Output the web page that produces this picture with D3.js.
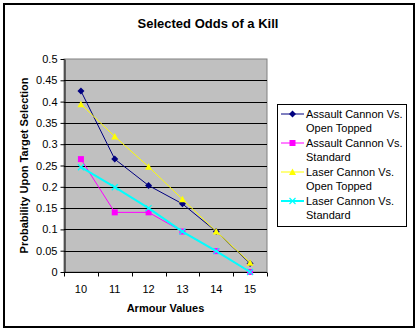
<!DOCTYPE html>
<html>
<head>
<meta charset="utf-8">
<script src="https://cdn.jsdelivr.net/npm/d3@7"></script>
<style>
  html, body { margin: 0; padding: 0; background: #fff; }
  svg { display: block; font-family: Arial, "Liberation Sans", sans-serif; }
</style>
</head>
<body>
<svg id="chart" width="416" height="332"></svg>
<script>
// Armour values along the x axis
const armour = ["10", "11", "12", "13", "14", "15"];

// Probability of a kill for each weapon / target pairing
const assaultOpen = [0.425, 0.265, 0.203, 0.16, 0.095, 0.02];
const assaultStd  = [0.265, 0.14, 0.14, 0.095, 0.049, 0];
const laserOpen   = [0.394, 0.318, 0.247, 0.171, 0.095, 0.022];
const laserStd    = [0.246, 0.199, 0.15, 0.095, 0.049, 0];

const seriesNames = [
  ["Assault Cannon Vs.", "Open Topped"],
  ["Assault Cannon Vs.", "Standard"],
  ["Laser Cannon Vs.", "Open Topped"],
  ["Laser Cannon Vs.", "Standard"]
];
const yTicks = [0, 0.05, 0.1, 0.15, 0.2, 0.25, 0.3, 0.35, 0.4, 0.45, 0.5];

const series = [
  { name: seriesNames[0], values: assaultOpen, color: "#000080", marker: "diamond", width: 1 },
  { name: seriesNames[1], values: assaultStd,  color: "#FF00FF", marker: "square",  width: 1 },
  { name: seriesNames[2], values: laserOpen,   color: "#FFFF00", marker: "triangle", width: 1 },
  { name: seriesNames[3], values: laserStd,    color: "#00FFFF", marker: "cross",   width: 2 }
];

const svg = d3.select("#chart");

// Outer chart border
svg.append("rect")
  .attr("x", 4).attr("y", 4).attr("width", 410).attr("height", 323)
  .attr("fill", "#fff").attr("stroke", "#000").attr("stroke-width", 2);

// Title
svg.append("text")
  .attr("x", 208).attr("y", 28)
  .attr("text-anchor", "middle")
  .attr("font-size", 13).attr("font-weight", "bold")
  .text("Selected Odds of a Kill");

const plot = { left: 64, top: 59, right: 267, bottom: 272 };

const x = d3.scaleBand().domain(armour).range([plot.left, plot.right]);
const y = d3.scaleLinear().domain([0, 0.5]).range([plot.bottom, plot.top]);

// Plot background
svg.append("rect")
  .attr("x", plot.left).attr("y", plot.top)
  .attr("width", plot.right - plot.left).attr("height", plot.bottom - plot.top)
  .attr("fill", "#C0C0C0").attr("stroke", "#808080").attr("stroke-width", 1);

// Horizontal gridlines
svg.append("g")
  .selectAll("line")
  .data(yTicks.filter(t => t > 0 && t < 0.5))
  .join("line")
  .attr("x1", plot.left).attr("x2", plot.right)
  .attr("y1", d => Math.round(y(d)) + 0.5).attr("y2", d => Math.round(y(d)) + 0.5)
  .attr("stroke", "#000").attr("stroke-width", 1);

// Y axis
const yAxis = svg.append("g")
  .attr("transform", `translate(${plot.left + 0.5},0)`)
  .call(d3.axisLeft(y).tickValues(yTicks).tickSize(4).tickSizeOuter(0).tickFormat(d => String(d)));
yAxis.select(".domain").attr("stroke", "#000");
yAxis.selectAll(".tick line").attr("stroke", "#000");
yAxis.selectAll(".tick text").attr("font-size", 11).attr("fill", "#000")
  .attr("font-family", "Arial, 'Liberation Sans', sans-serif").attr("x", -7);

// X axis: ticks at band boundaries, labels at band centres
const xAxis = svg.append("g")
  .attr("transform", `translate(0,${plot.bottom + 0.5})`);
xAxis.append("line")
  .attr("x1", plot.left).attr("x2", plot.right)
  .attr("stroke", "#000");
const bounds = armour.map(d => x(d)).concat([x(armour[armour.length - 1]) + x.bandwidth()]);
xAxis.selectAll("line.tick")
  .data(bounds)
  .join("line")
  .attr("class", "tick")
  .attr("x1", d => Math.round(d) + 0.5).attr("x2", d => Math.round(d) + 0.5)
  .attr("y1", 0).attr("y2", 4)
  .attr("stroke", "#000");
xAxis.selectAll("text")
  .data(armour)
  .join("text")
  .attr("x", d => x(d) + x.bandwidth() / 2)
  .attr("y", 20)
  .attr("text-anchor", "middle")
  .attr("font-size", 11)
  .text(d => d);

// Axis titles
svg.append("text")
  .attr("x", (plot.left + plot.right) / 2).attr("y", 312)
  .attr("text-anchor", "middle")
  .attr("font-size", 11).attr("font-weight", "bold")
  .text("Armour Values");

svg.append("text")
  .attr("transform", `translate(28,${(plot.top + plot.bottom) / 2}) rotate(-90)`)
  .attr("text-anchor", "middle")
  .attr("font-size", 11).attr("font-weight", "bold")
  .text("Probability Upon Target Selection");

// Marker drawing
function drawMarker(g, type, color, cx, cy) {
  if (type === "diamond") {
    g.append("path")
      .attr("d", `M${cx},${cy - 3.5}L${cx + 3.5},${cy}L${cx},${cy + 3.5}L${cx - 3.5},${cy}Z`)
      .attr("fill", color);
  } else if (type === "square") {
    g.append("rect")
      .attr("x", cx - 3).attr("y", cy - 3).attr("width", 6).attr("height", 6)
      .attr("fill", color);
  } else if (type === "triangle") {
    g.append("path")
      .attr("d", `M${cx},${cy - 3.5}L${cx + 3.5},${cy + 3}L${cx - 3.5},${cy + 3}Z`)
      .attr("fill", color);
  } else if (type === "cross") {
    g.append("path")
      .attr("d", `M${cx - 3},${cy - 3}L${cx + 3},${cy + 3}M${cx - 3},${cy + 3}L${cx + 3},${cy - 3}`)
      .attr("stroke", color).attr("stroke-width", 1.2).attr("fill", "none");
  }
}

const line = d3.line()
  .x((d, i) => x(armour[i]) + x.bandwidth() / 2)
  .y(d => y(d));

// Series lines and markers
series.forEach(s => {
  const g = svg.append("g");
  g.append("path")
    .datum(s.values)
    .attr("d", line)
    .attr("fill", "none")
    .attr("stroke", s.color)
    .attr("stroke-width", s.width);
  s.values.forEach((v, i) => {
    drawMarker(g, s.marker, s.color, x(armour[i]) + x.bandwidth() / 2, y(v));
  });
});

// Legend
const legend = svg.append("g");
legend.append("rect")
  .attr("x", 277.5).attr("y", 104.5).attr("width", 129).attr("height", 122)
  .attr("fill", "#fff").attr("stroke", "#000").attr("stroke-width", 1);

series.forEach((s, i) => {
  const ly = 114 + i * 29;
  legend.append("line")
    .attr("x1", 281).attr("x2", 304)
    .attr("y1", ly).attr("y2", ly)
    .attr("stroke", s.color).attr("stroke-width", s.width);
  drawMarker(legend, s.marker, s.color, 292.5, ly);
  s.name.forEach((t, j) => {
    legend.append("text")
      .attr("x", 306).attr("y", ly + 4 + j * 14)
      .attr("font-size", 11)
      .text(t);
  });
});
</script>
</body>
</html>
